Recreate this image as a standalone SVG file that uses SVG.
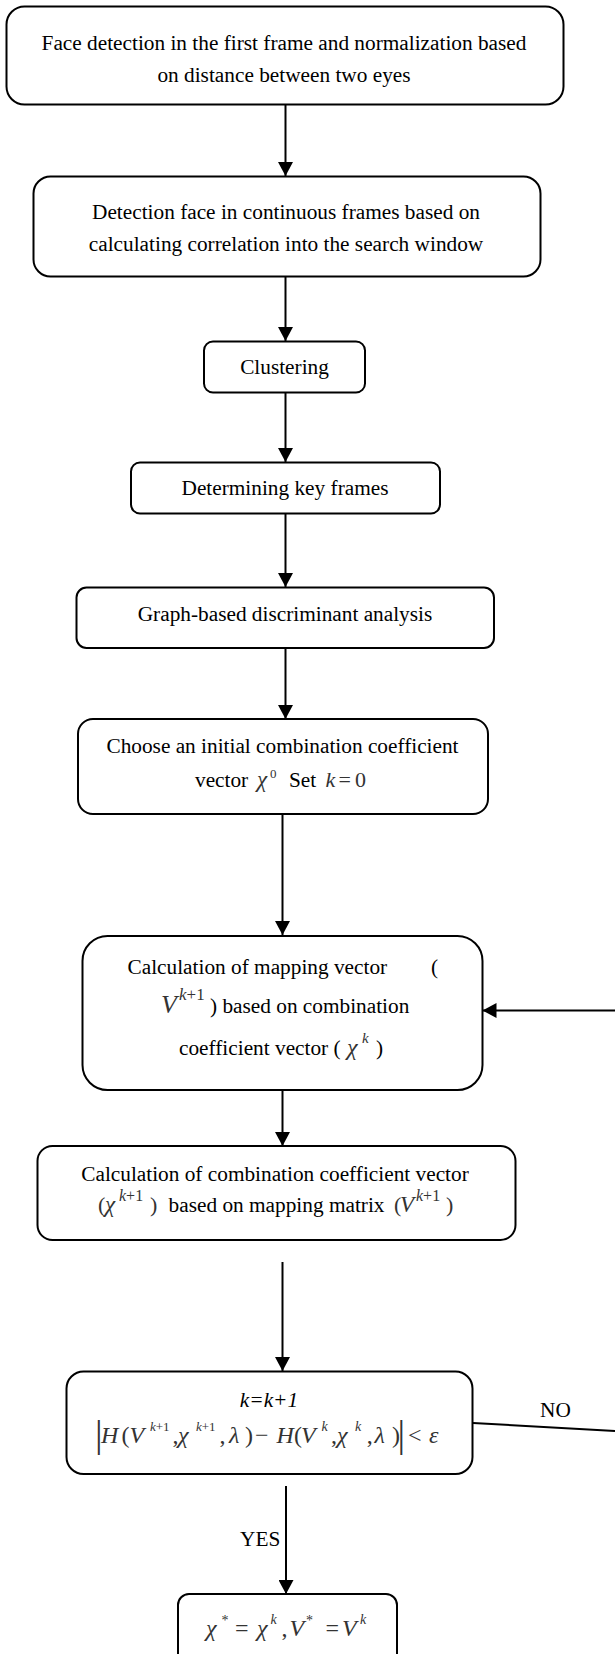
<svg xmlns="http://www.w3.org/2000/svg" width="615" height="1654" viewBox="0 0 615 1654">
  <style>
    .box { fill: #fff; stroke: #000; stroke-width: 2; }
    .t { font-family: "Liberation Serif", "Times New Roman", serif; font-size: 21.3px; fill: #000; }
    .c { text-anchor: middle; }
    .m { font-family: "Liberation Serif", "Times New Roman", serif; fill: #333; }
    .mi { font-style: italic; }
    .edge { fill: none; stroke: #000; stroke-width: 2; }
  </style>
  <defs>
    <marker id="arrow" markerUnits="userSpaceOnUse" markerWidth="15" markerHeight="15" refX="14" refY="7.5" orient="auto">
      <path d="M0,0 L14,7.5 L0,15 z" fill="#000"/>
    </marker>
  </defs>
  <rect width="615" height="1654" fill="#fff"/>

  <!-- connectors -->
  <g id="connectors">
    <path class="edge" d="M285.5,105 V176" marker-end="url(#arrow)"/>
    <path class="edge" d="M285.5,277 V341" marker-end="url(#arrow)"/>
    <path class="edge" d="M285.5,392 V462" marker-end="url(#arrow)"/>
    <path class="edge" d="M285.5,514 V587" marker-end="url(#arrow)"/>
    <path class="edge" d="M285.5,648 V719" marker-end="url(#arrow)"/>
    <path class="edge" d="M282.5,814 V935" marker-end="url(#arrow)"/>
    <path class="edge" d="M282.5,1090 V1146" marker-end="url(#arrow)"/>
    <path class="edge" d="M282.5,1262 V1371" marker-end="url(#arrow)"/>
    <path class="edge" d="M286,1486 V1594" marker-end="url(#arrow)"/>
    <!-- loop back: NO branch leaves to the right, returns into the mapping step -->
    <path class="edge" d="M473,1423 L615,1431"/>
    <path class="edge" d="M615,1010.5 H482.5" marker-end="url(#arrow)"/>
    <text class="t" x="540" y="1417">NO</text>
    <text class="t" x="240" y="1546">YES</text>
  </g>

  <g id="face-detection">
    <rect class="box" x="6.5" y="6.5" width="557" height="98" rx="18"/>
    <text class="t c" x="284" y="49.5">Face detection in the first frame and normalization based</text>
    <text class="t c" x="284" y="81.5">on distance between two eyes</text>
  </g>

  <g id="tracking">
    <rect class="box" x="33.5" y="176.5" width="507" height="100" rx="17"/>
    <text class="t c" x="286" y="218.5">Detection face in continuous frames based on</text>
    <text class="t c" x="286" y="251">calculating correlation into the search window</text>
  </g>

  <g id="clustering">
    <rect class="box" x="204" y="341.5" width="161" height="51" rx="9"/>
    <text class="t c" x="284.5" y="374">Clustering</text>
  </g>

  <g id="key-frames">
    <rect class="box" x="131" y="462.5" width="309" height="51" rx="9"/>
    <text class="t c" x="285" y="495">Determining key frames</text>
  </g>

  <g id="gda">
    <rect class="box" x="76.5" y="587.5" width="417.5" height="60.5" rx="10"/>
    <text class="t c" x="285" y="620.5">Graph-based discriminant analysis</text>
  </g>

  <g id="init">
    <rect class="box" x="78" y="719" width="410" height="95" rx="15"/>
    <text class="t c" x="282.5" y="753">Choose an initial combination coefficient</text>
    <text class="t" x="195" y="787">vector</text>
    <text class="m mi" x="257" y="787" font-size="23">χ</text>
    <text class="m" x="270" y="778" font-size="13">0</text>
    <text class="t" x="289" y="787">Set</text>
    <text class="m mi" x="325.5" y="787" font-size="22">k</text>
    <text class="m" x="338.5" y="787" font-size="22">=</text>
    <text class="m" x="355" y="787" font-size="22">0</text>
  </g>

  <g id="mapping">
    <rect class="box" x="82.5" y="936" width="400" height="154" rx="25"/>
    <text class="t" x="127.5" y="974">Calculation of mapping vector</text>
    <text class="t" x="431" y="974">(</text>
    <text class="m mi" x="161" y="1013" font-size="26">V</text>
    <text class="m" x="179" y="1000" font-size="17"><tspan font-style="italic">k</tspan>+1</text>
    <text class="t" x="210" y="1013">) based on combination</text>
    <text class="t" x="179" y="1055">coefficient vector (</text>
    <text class="m mi" x="347" y="1055" font-size="24">χ</text>
    <text class="m mi" x="362" y="1043" font-size="15">k</text>
    <text class="t" x="376" y="1055">)</text>
  </g>

  <g id="coefficient">
    <rect class="box" x="37.5" y="1146" width="478" height="94" rx="15"/>
    <text class="t c" x="275" y="1181">Calculation of combination coefficient vector</text>
    <text class="m" x="98" y="1212" font-size="22">(</text>
    <text class="m mi" x="105" y="1212" font-size="23">χ</text>
    <text class="m" x="119" y="1201" font-size="16"><tspan font-style="italic">k</tspan>+1</text>
    <text class="m" x="150" y="1212" font-size="22">)</text>
    <text class="t" x="168.6" y="1212">based on mapping matrix</text>
    <text class="m" x="394" y="1212" font-size="22">(</text>
    <text class="m mi" x="400" y="1212" font-size="23">V</text>
    <text class="m" x="416" y="1201" font-size="16"><tspan font-style="italic">k</tspan>+1</text>
    <text class="m" x="446" y="1212" font-size="22">)</text>
  </g>

  <g id="convergence">
    <rect class="box" x="66.5" y="1371.5" width="406" height="102.5" rx="17"/>
    <text class="t c" x="269" y="1407" font-style="italic">k=k+1</text>
    <g class="m" fill="#1a1a1a" font-size="24">
      <text x="95" y="1447" font-size="38">|</text>
      <text class="mi" x="101" y="1443">H</text>
      <text x="121.6" y="1443">(</text>
      <text class="mi" x="129.4" y="1443">V</text>
      <text x="150" y="1431" font-size="13"><tspan font-style="italic">k</tspan>+1</text>
      <text x="172.5" y="1443">,</text>
      <text class="mi" x="178" y="1443">χ</text>
      <text x="196" y="1431" font-size="13"><tspan font-style="italic">k</tspan>+1</text>
      <text x="219.6" y="1443">,</text>
      <text class="mi" x="229" y="1443">λ</text>
      <text x="245" y="1443">)</text>
      <text x="255" y="1443">−</text>
      <text class="mi" x="276.5" y="1443">H</text>
      <text x="294" y="1443">(</text>
      <text class="mi" x="301" y="1443">V</text>
      <text class="mi" x="321.6" y="1431" font-size="14">k</text>
      <text x="331" y="1443">,</text>
      <text class="mi" x="337" y="1443">χ</text>
      <text class="mi" x="355" y="1431" font-size="14">k</text>
      <text x="366.7" y="1443">,</text>
      <text class="mi" x="374.5" y="1443">λ</text>
      <text x="392" y="1443">)</text>
      <text x="397.5" y="1447" font-size="38">|</text>
      <text x="408" y="1443">&lt;</text>
      <text class="mi" x="429" y="1443">ε</text>
    </g>
  </g>

  <g id="result">
    <rect class="box" x="178" y="1594" width="219" height="80" rx="11"/>
    <g class="m" fill="#3a3a3a" font-size="24">
      <text class="mi" x="206" y="1636">χ</text>
      <text x="221.5" y="1625" font-size="14">*</text>
      <text x="235" y="1636">=</text>
      <text class="mi" x="257" y="1636">χ</text>
      <text class="mi" x="270.5" y="1624" font-size="14">k</text>
      <text x="281.6" y="1636">,</text>
      <text class="mi" x="289.4" y="1636">V</text>
      <text x="306" y="1625" font-size="14">*</text>
      <text x="325.5" y="1636">=</text>
      <text class="mi" x="342" y="1636">V</text>
      <text class="mi" x="360" y="1624" font-size="14">k</text>
    </g>
  </g>
</svg>
